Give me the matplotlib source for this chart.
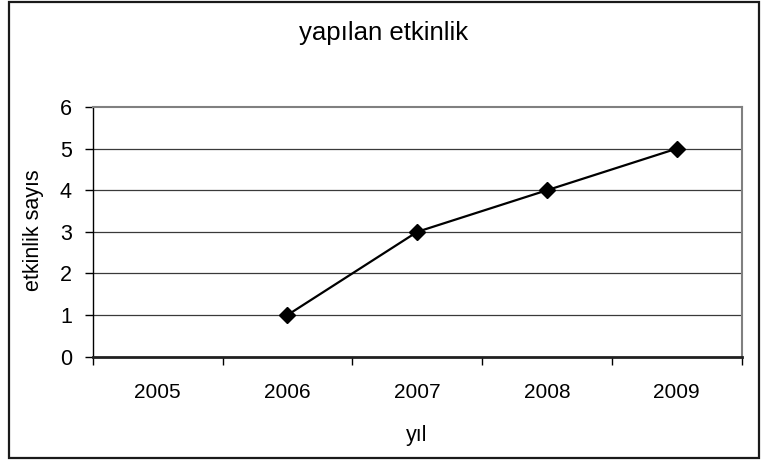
import matplotlib
matplotlib.use("Agg")
import matplotlib.pyplot as plt
from matplotlib.patches import Rectangle
import numpy as np

categories = ["2005", "2006", "2007", "2008", "2009"]
values = [np.nan, 1, 3, 4, 5]
yticks = [0, 1, 2, 3, 4, 5, 6]

plt.rcParams['font.family'] = ['Liberation Sans', 'DejaVu Sans']

W, H = 763, 462
fig = plt.figure(figsize=(W / 100, H / 100), dpi=100)
fig.patch.set_facecolor("white")

# outer border
fig.patches.append(Rectangle((9 / W, 1 - 458 / H), (759 - 9) / W, (458 - 2) / H,
                             transform=fig.transFigure, fill=False,
                             edgecolor="#1a1a1a", linewidth=1.6))

left, right = 92.7 / W, 741.7 / W
bottom, top = 1 - 356.7 / H, 1 - 107 / H
ax = fig.add_axes([left, bottom, right - left, top - bottom])

x = np.arange(len(categories))
ax.plot(x, values, color="black", linewidth=1.6, marker="D", markersize=8.5,
        markerfacecolor="black", markeredgecolor="black", zorder=3)

ax.set_xlim(-0.5, len(categories) - 0.5)
ax.set_ylim(0, 6)
ax.set_yticks(yticks)
ax.set_yticklabels([str(t) for t in yticks])

for t in yticks[1:-1]:
    ax.axhline(t, color="#3a3a3a", linewidth=0.9, zorder=1)

ax.set_xticks(x)
ax.set_xticklabels(categories)
ax.set_xticks(np.arange(len(categories) + 1) - 0.5, minor=True)
ax.tick_params(axis="x", which="major", length=0, labelsize=15, pad=19)
ax.tick_params(axis="x", which="minor", length=6, width=1, color="black")
ax.tick_params(axis="y", length=6, width=1, labelsize=15.5, pad=9, color="black")

ax.spines["top"].set_color("#808080")
ax.spines["right"].set_color("#808080")
ax.spines["top"].set_linewidth(1.5)
ax.spines["right"].set_linewidth(1.5)
ax.spines["left"].set_color("black")
ax.spines["left"].set_linewidth(1.0)
ax.spines["bottom"].set_color("#202020")
ax.spines["bottom"].set_linewidth(2.0)

fig.text(384 / W, 1 - 33 / H, "yapılan etkinlik", ha="center", va="center", fontsize=18.5)
fig.text(417 / W, 1 - 436 / H, "yıl", ha="center", va="center", fontsize=15.5)
fig.text(34 / W, 1 - 230 / H, "etkinlik sayıs", ha="center", va="center",
         rotation=90, fontsize=15.5)

fig.savefig("out.png", dpi=100)
